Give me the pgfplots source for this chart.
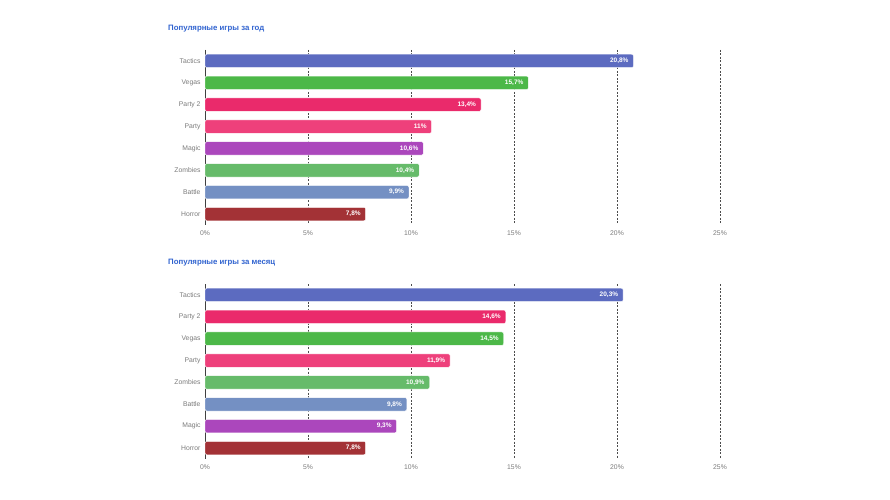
\documentclass[border=0pt]{standalone}
\usepackage{pgfplots}
\pgfplotsset{compat=1.18}
\usepackage{fontspec}
\setmainfont{Liberation Sans}
\definecolor{cTactics}{HTML}{5C6BC0}
\definecolor{cVegas}{HTML}{4CB848}
\definecolor{cPartyB}{HTML}{EA2A6B}
\definecolor{cParty}{HTML}{EE407B}
\definecolor{cMagic}{HTML}{AB47BC}
\definecolor{cZombies}{HTML}{66BB6A}
\definecolor{cBattle}{HTML}{7490C3}
\definecolor{cHorror}{HTML}{A33236}
\definecolor{ctitle}{HTML}{2F62CF}
\definecolor{clab}{HTML}{7A7A7A}
\pgfplotsset{
  mybars/.style={
    xbar, bar width=13.5bp, bar shift=0pt,
    scale only axis, width=515bp, height=175bp,
    xmin=0, xmax=25, ymin=-0.5, ymax=7.5, y dir=reverse,
    xtick={0,5,10,15,20,25},
    xticklabels={0\%,5\%,10\%,15\%,20\%,25\%},
    ytick={0,1,2,3,4,5,6,7},
    major tick length=0pt,
    /pgf/number format/assume math mode=true,
    xmajorgrids, grid style={dash pattern=on 2bp off 1.5bp, black!70, line width=0.45pt},
    axis x line*=bottom, axis y line*=left,
    x axis line style={draw=none},
    y axis line style={draw=black!75, line width=0.5pt},
    tick label style={font=\fontsize{6.8bp}{8bp}\selectfont, text=clab},
    xticklabel style={yshift=-2bp},
    yticklabel style={xshift=-1bp},
    every axis plot/.append style={draw=white, line width=0.4pt, rounded corners=2bp},
    nodes near coords={\pgfmathprintnumber[use comma,fixed,precision=1,assume math mode=true]{\pgfplotspointmeta}\%},
    nodes near coords style={anchor=east, xshift=-1.5bp, text=white, font=\bfseries\fontsize{6.5bp}{7bp}\selectfont},
    point meta=x,
    clip=false,
  }
}
\begin{document}
\begin{tikzpicture}[x=1bp,y=1bp]
\path[use as bounding box] (0,0) rectangle (890,500);
\node[anchor=west, inner sep=0pt, text=ctitle, font=\bfseries\fontsize{7.8bp}{9bp}\selectfont] at (168,471) {Популярные игры за год};
\begin{axis}[mybars, at={(205bp,275bp)}, anchor=south west,
  yticklabels={Tactics,Vegas,Party 2,Party,Magic,Zombies,Battle,Horror}]
\addplot[fill=cTactics] coordinates {(20.8,0)};
\addplot[fill=cVegas] coordinates {(15.7,1)};
\addplot[fill=cPartyB] coordinates {(13.4,2)};
\addplot[fill=cParty] coordinates {(11,3)};
\addplot[fill=cMagic] coordinates {(10.6,4)};
\addplot[fill=cZombies] coordinates {(10.4,5)};
\addplot[fill=cBattle] coordinates {(9.9,6)};
\addplot[fill=cHorror] coordinates {(7.8,7)};
\end{axis}
\node[anchor=west, inner sep=0pt, text=ctitle, font=\bfseries\fontsize{7.8bp}{9bp}\selectfont] at (168,237) {Популярные игры за месяц};
\begin{axis}[mybars, at={(205bp,41bp)}, anchor=south west,
  yticklabels={Tactics,Party 2,Vegas,Party,Zombies,Battle,Magic,Horror}]
\addplot[fill=cTactics] coordinates {(20.3,0)};
\addplot[fill=cPartyB] coordinates {(14.6,1)};
\addplot[fill=cVegas] coordinates {(14.5,2)};
\addplot[fill=cParty] coordinates {(11.9,3)};
\addplot[fill=cZombies] coordinates {(10.9,4)};
\addplot[fill=cBattle] coordinates {(9.8,5)};
\addplot[fill=cMagic] coordinates {(9.3,6)};
\addplot[fill=cHorror] coordinates {(7.8,7)};
\end{axis}
\end{tikzpicture}
\end{document}
